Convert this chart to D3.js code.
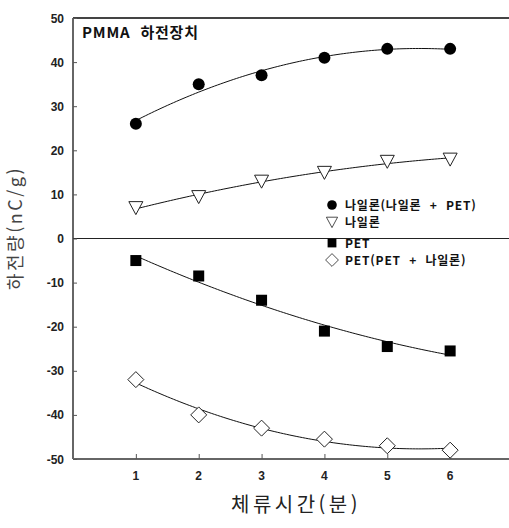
<!DOCTYPE html>
<html lang="ko">
<head>
<meta charset="UTF-8">
<title>하전량</title>
<style>
  body { margin: 0; background: #fff; }
  svg { display: block; }
  .tick-lbl { font-family: "Liberation Sans", Arial, sans-serif; font-weight: bold; font-size: 12px; fill: #222; }
  .kr { font-family: "Noto Sans CJK KR", sans-serif; }
</style>
</head>
<body>
<script src="https://d3js.org/d3.v7.min.js"></script>
<script>
const times = [1, 2, 3, 4, 5, 6];
const nylonMix = [26, 35, 37, 41, 43, 43];
const nylon = [7, 9.5, 13, 15, 17.5, 18];
const pet = [-5, -8.5, -14, -21, -24.5, -25.5];
const petMix = [-32, -40, -43, -45.5, -47, -48];
const yTicks = [50, 40, 30, 20, 10, 0, -10, -20, -30, -40, -50];
const xTicks = [1, 2, 3, 4, 5, 6];

const W = 509, H = 528;
const x = d3.scaleLinear().domain([0, 7]).range([73, 513]);
const y = d3.scaleLinear().domain([-50, 50]).range([459, 18]);

const svg = d3.select("body").append("svg").attr("width", W).attr("height", H);

// frame: top, left, bottom (right edge falls outside the picture)
svg.append("line").attr("x1", x(0)).attr("x2", W).attr("y1", y(50)).attr("y2", y(50))
  .attr("stroke", "#444").attr("stroke-width", 2);
svg.append("line").attr("x1", x(0)).attr("x2", x(0)).attr("y1", y(50)).attr("y2", y(-50))
  .attr("stroke", "#666").attr("stroke-width", 2);
svg.append("line").attr("x1", x(0)).attr("x2", W).attr("y1", y(-50)).attr("y2", y(-50))
  .attr("stroke", "#666").attr("stroke-width", 2);
svg.append("line").attr("x1", x(0)).attr("x2", W).attr("y1", y(0)).attr("y2", y(0))
  .attr("stroke", "#222").attr("stroke-width", 1.2);

// y axis ticks + labels
const yAxis = d3.axisRight(y).tickValues(yTicks).tickSize(4).tickFormat("");
svg.append("g").attr("transform", `translate(${x(0)},0)`).call(yAxis)
  .call(g => g.select(".domain").remove())
  .call(g => g.selectAll("line").attr("stroke", "#555"));
svg.append("g").selectAll("text").data(yTicks).join("text")
  .attr("class", "tick-lbl").attr("x", 64).attr("y", d => y(d) + 4.5)
  .attr("text-anchor", "end").text(d => d);

// x axis ticks + labels
const xAxis = d3.axisTop(x).tickValues(xTicks).tickSize(5).tickFormat("");
svg.append("g").attr("transform", `translate(0,${y(-50)})`).call(xAxis)
  .call(g => g.select(".domain").remove())
  .call(g => g.selectAll("line").attr("stroke", "#555"));
svg.append("g").selectAll("text").data(xTicks).join("text")
  .attr("class", "tick-lbl").attr("x", d => x(d)).attr("y", 480)
  .attr("text-anchor", "middle").text(d => d);

// axis titles
svg.append("text").attr("class", "kr")
  .attr("transform", "translate(22,228) rotate(-90)")
  .attr("text-anchor", "middle").attr("font-size", 18).attr("fill", "#444")
  .attr("letter-spacing", 2.5).text("하전량(nC/g)");
svg.append("text").attr("class", "kr").attr("x", 296).attr("y", 512)
  .attr("text-anchor", "middle").attr("font-size", 20).attr("fill", "#222")
  .attr("letter-spacing", 3.5).text("체류시간(분)");

svg.append("text").attr("class", "kr").attr("x", 82).attr("y", 38)
  .attr("font-size", 15).attr("font-weight", "bold").attr("fill", "#111")
  .attr("letter-spacing", 0.8).attr("xml:space", "preserve")
  .text("PMMA  하전장치");

// quadratic least squares fit
function quadFit(xs, ys) {
  let S = [0, 0, 0, 0, 0], T = [0, 0, 0];
  xs.forEach((xv, i) => {
    for (let k = 0; k < 5; k++) S[k] += Math.pow(xv, k);
    for (let k = 0; k < 3; k++) T[k] += ys[i] * Math.pow(xv, k);
  });
  const A = [[S[0], S[1], S[2], T[0]], [S[1], S[2], S[3], T[1]], [S[2], S[3], S[4], T[2]]];
  for (let i = 0; i < 3; i++) {
    for (let j = i + 1; j < 3; j++) {
      const f = A[j][i] / A[i][i];
      for (let k = i; k < 4; k++) A[j][k] -= f * A[i][k];
    }
  }
  const c = [0, 0, 0];
  for (let i = 2; i >= 0; i--) {
    let s = A[i][3];
    for (let k = i + 1; k < 3; k++) s -= A[i][k] * c[k];
    c[i] = s / A[i][i];
  }
  return t => c[0] + c[1] * t + c[2] * t * t;
}

const series = [
  {vals: nylonMix, shape: "circle"},
  {vals: nylon, shape: "triangle"},
  {vals: pet, shape: "square"},
  {vals: petMix, shape: "diamond"}
];

const line = d3.line().x(d => x(d[0])).y(d => y(d[1]));
series.forEach(s => {
  const f = quadFit(times, s.vals);
  const pts = d3.range(1, 6.001, 0.05).map(t => [t, f(t)]);
  svg.append("path").attr("d", line(pts)).attr("fill", "none")
    .attr("stroke", "#111").attr("stroke-width", 1);
});

function drawMarker(g, shape) {
  if (shape === "circle") {
    g.append("circle").attr("r", 6).attr("fill", "#000");
  } else if (shape === "triangle") {
    g.append("path").attr("d", "M-7,-6L7,-6L0,7Z").attr("fill", "#fff")
      .attr("stroke", "#222").attr("stroke-width", 1);
  } else if (shape === "square") {
    g.append("rect").attr("x", -5.5).attr("y", -5.5).attr("width", 11).attr("height", 11).attr("fill", "#000");
  } else {
    g.append("path").attr("d", "M0,-8L8,0L0,8L-8,0Z").attr("fill", "#fff")
      .attr("stroke", "#222").attr("stroke-width", 1);
  }
}

series.forEach(s => {
  svg.append("g").selectAll("g").data(times).join("g")
    .attr("transform", (t, i) => `translate(${x(t)},${y(s.vals[i])})`)
    .each(function() { drawMarker(d3.select(this), s.shape); });
});

// legend
const legendLabels = ["나일론(나일론 + PET)", "나일론", "PET", "PET(PET + 나일론)"];
const legendY = [205, 222, 243, 260];
legendLabels.forEach((lbl, i) => {
  const g = svg.append("g").attr("transform", `translate(332,${legendY[i]})`);
  drawMarker(g, series[i].shape);
  g.select("*").attr("transform", "scale(0.8)");
  g.append("text").attr("class", "kr").attr("x", 13).attr("y", 5)
    .attr("font-size", 12).attr("font-weight", "bold").attr("fill", "#111")
    .attr("letter-spacing", 0.8).attr("xml:space", "preserve").text(lbl.replace(" + ", "  +  "));
});
</script>
</body>
</html>
